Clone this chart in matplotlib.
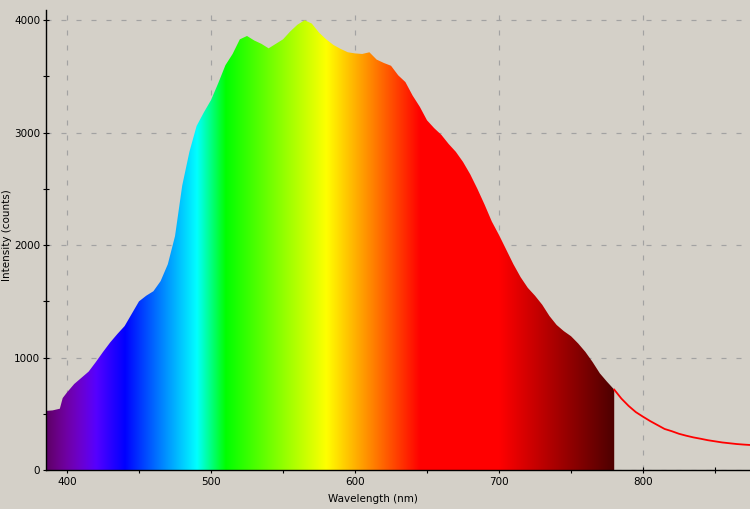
import numpy as np
import matplotlib
matplotlib.use('Agg')
import matplotlib.pyplot as plt

# spectrum (wavelength nm, intensity counts)
wavelength = [385, 390, 395, 397, 400, 405, 410, 415, 420, 425, 430, 435, 440, 445,
              450, 455, 460, 465, 470, 475, 480, 485, 490, 495, 500, 505, 510, 515,
              520, 525, 530, 535, 540, 545, 550, 555, 560, 565, 570, 575, 580, 585,
              590, 595, 600, 605, 610, 615, 620, 625, 630, 635, 640, 645, 650, 655,
              660, 665, 670, 675, 680, 685, 690, 695, 700, 705, 710, 715, 720, 725,
              730, 735, 740, 745, 750, 755, 760, 765, 770, 775, 780, 785, 790, 795,
              800, 805, 810, 815, 820, 825, 830, 835, 840, 845, 850, 855, 860, 865,
              870, 875]
intensity = [525, 530, 545, 640, 690, 765, 820, 875, 960, 1050, 1135, 1210, 1280, 1390,
             1500, 1550, 1590, 1680, 1830, 2080, 2530, 2830, 3060, 3180, 3290, 3440, 3600, 3700,
             3830, 3860, 3820, 3790, 3750, 3790, 3830, 3900, 3960, 4000, 3970, 3890, 3830, 3780,
             3745, 3715, 3705, 3700, 3715, 3650, 3620, 3595, 3510, 3450, 3330, 3230, 3110, 3040,
             2980, 2900, 2830, 2740, 2630, 2500, 2360, 2210, 2090, 1960, 1830, 1715, 1620, 1550,
             1470, 1370, 1290, 1235, 1190, 1125, 1050, 960, 860, 785, 715, 635, 570, 515,
             474, 435, 400, 365, 345, 322, 305, 290, 278, 265, 255, 245, 238, 231,
             226, 222]

fill_end = 780  # colour fill stops here, red line after

x_ticks = [400, 500, 600, 700, 800]
y_ticks = [0, 1000, 2000, 3000, 4000]

bg = '#d4d0c8'
plt.rcParams['lines.scale_dashes'] = False


def wl_to_rgb(w):
    # classic visible spectrum colour approximation
    if w < 440:
        r, g, b = -(w - 440) / 60, 0.0, 1.0
    elif w < 490:
        r, g, b = 0.0, (w - 440) / 50, 1.0
    elif w < 510:
        r, g, b = 0.0, 1.0, -(w - 510) / 20
    elif w < 580:
        r, g, b = (w - 510) / 70, 1.0, 0.0
    elif w < 645:
        r, g, b = 1.0, -(w - 645) / 65, 0.0
    else:
        r, g, b = 1.0, 0.0, 0.0
    if w < 420:
        f = 0.3 + 0.7 * (w - 380) / 40
    elif w > 700:
        f = 0.3 + 0.7 * (780 - w) / 80
    else:
        f = 1.0
    return (r * f, g * f, b * f)


wl = np.array(wavelength, dtype=float)
inten = np.array(intensity, dtype=float)

fig = plt.figure(figsize=(7.5, 5.09), dpi=100, facecolor=bg)
ax = fig.add_axes([46 / 750, 39 / 509, 704 / 750, 460 / 509])
ax.set_facecolor(bg)

xmin, xmax = 385.4, 874.3
ymin, ymax = 0, 4091

ax.set_xlim(xmin, xmax)
ax.set_ylim(ymin, ymax)

# grid
ax.set_xticks(x_ticks)
ax.set_yticks(y_ticks)
ax.set_xticks(np.arange(450, 900, 100), minor=True)
ax.set_yticks(np.arange(500, 4500, 1000), minor=True)
ax.grid(True, which='major', color='#a2a2a2', linestyle=(0, (3.6, 7.2)), linewidth=0.85, zorder=0)

# colour fill, clipped to the curve
m = wl <= fill_end
poly = ax.fill_between(wl[m], 0, inten[m], color='none', linewidth=0)
grad_w = np.linspace(xmin, fill_end, 800)
grad = np.array([wl_to_rgb(w) for w in grad_w])[None, :, :]
img = ax.imshow(grad, extent=[xmin, fill_end, 0, ymax], aspect='auto', origin='lower',
                interpolation='bilinear', zorder=2)
img.set_clip_path(poly.get_paths()[0], transform=ax.transData)

# red line after the fill
m2 = wl >= fill_end
ax.plot(wl[m2], inten[m2], color='#ff0000', linewidth=1.3, zorder=3)

ax.set_xlim(xmin, xmax)
ax.set_ylim(ymin, ymax)

for s in ['top', 'right']:
    ax.spines[s].set_visible(False)
for s in ['left', 'bottom']:
    ax.spines[s].set_color('black')
    ax.spines[s].set_linewidth(1.0)
    ax.spines[s].set_zorder(5)

ax.tick_params(which='major', direction='inout', length=4.5, width=0.8, labelsize=7.5, pad=2)
ax.tick_params(which='minor', direction='inout', length=3.8, width=0.8)
ax.tick_params(axis='x', which='major', pad=3)

ax.set_xlabel('Wavelength (nm)', fontsize=7.5)
ax.set_ylabel('Intensity (counts)', fontsize=7.5)
ax.xaxis.set_label_coords((373 - 46) / 704, -24 / 460)
ax.yaxis.set_label_coords((12 - 46) / 704, (470 - 235) / 460)

plt.savefig('out.png', dpi=100, facecolor=bg)
